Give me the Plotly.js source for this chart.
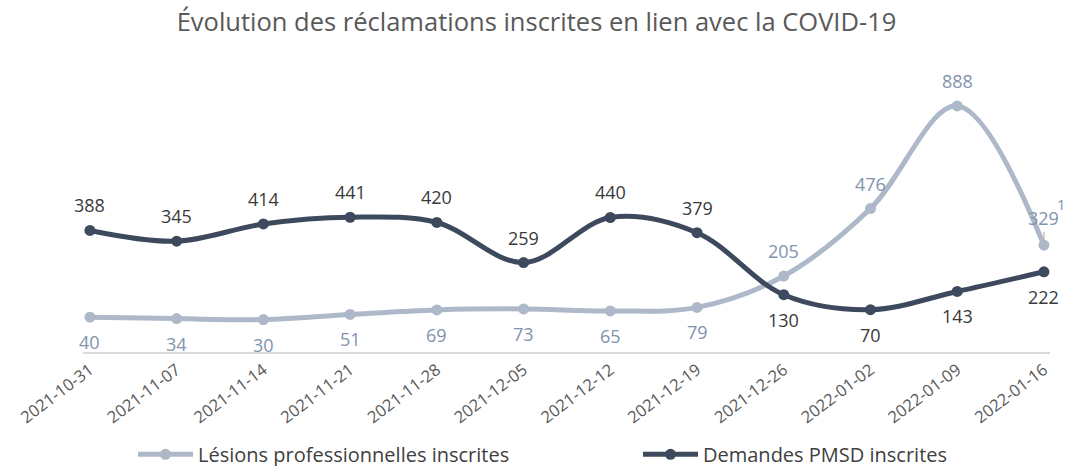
<!DOCTYPE html>
<html>
<head>
<meta charset="utf-8">
<script src="https://cdn.plot.ly/plotly-3.0.1.min.js"></script>
<style>html,body{margin:0;padding:0;background:#fff;}#chart{width:1073px;height:466px;}</style>
</head>
<body>
<div id="chart"></div>
<script>
const weeks = ["2021-10-31","2021-11-07","2021-11-14","2021-11-21","2021-11-28","2021-12-05","2021-12-12","2021-12-19","2021-12-26","2022-01-02","2022-01-09","2022-01-16"];
const lesions = [40,34,30,51,69,73,65,79,205,476,888,329];
const pmsd = [388,345,414,441,420,259,440,379,130,70,143,222];
const seriesNames = ["Lésions professionnelles inscrites","Demandes PMSD inscrites"];
const chartTitle = "Évolution des réclamations inscrites en lien avec la COVID-19";
const strayLabel = "1";

const lightColor = "#adb8c8";
const darkColor = "#3d4a5d";
const lightText = "#8193ad";
const darkText = "#3a3a3a";
const FONT = "Open Sans, sans-serif";

const traces = [
  {x: weeks, y: lesions, name: seriesNames[0], type: "scatter", mode: "lines+markers", legend: "legend",
   line: {color: lightColor, width: 5, shape: "spline", smoothing: 1},
   marker: {color: lightColor, size: 11}},
  {x: weeks, y: pmsd, name: seriesNames[1], type: "scatter", mode: "lines+markers", legend: "legend2",
   line: {color: darkColor, width: 5, shape: "spline", smoothing: 1},
   marker: {color: darkColor, size: 11}}
];

const annotations = [];
const last = weeks.length - 1;
weeks.forEach((w, i) => {
  const darkAbove = pmsd[i] > lesions[i];
  const lightAnn = {x: w, y: lesions[i], xref: "x", yref: "y", text: String(lesions[i]), showarrow: false,
    yshift: darkAbove ? -25 : 25, font: {family: FONT, size: 18, color: lightText}};
  if (i === last) {
    Object.assign(lightAnn, {showarrow: true, arrowhead: 0, arrowwidth: 1.2, arrowcolor: "#bfb3a6",
      ax: 0, ay: -27, standoff: 3, yshift: 0});
  }
  annotations.push(lightAnn);
  annotations.push({x: w, y: pmsd[i], xref: "x", yref: "y", text: String(pmsd[i]), showarrow: false,
    yshift: darkAbove ? 25 : -25, font: {family: FONT, size: 18, color: darkText}});
});
annotations.push({x: (1068-83)/(1050-83), y: (352-204)/274, xref: "paper", yref: "paper",
  text: strayLabel, showarrow: false, font: {family: FONT, size: 15, color: lightText}});

const legendBase = {orientation: "h", xanchor: "left", xref: "container", y: 0.025, yref: "container", yanchor: "middle",
  font: {family: FONT, size: 20, color: "#404040"}, itemwidth: 55, bgcolor: "rgba(0,0,0,0)"};

const layout = {
  width: 1073, height: 466,
  margin: {l: 83, r: 23, t: 78, b: 114},
  paper_bgcolor: "#fff", plot_bgcolor: "#fff",
  title: {text: chartTitle, x: 0.5, xref: "container", xanchor: "center", y: 0.952, yref: "container", yanchor: "middle",
          font: {family: FONT, size: 25.5, color: "#595959"}},
  xaxis: {type: "category", range: [-0.08, 11.07], showgrid: false, zeroline: false,
          showline: true, linecolor: "#d9d9d9", linewidth: 2, ticks: "",
          tickangle: -37, tickfont: {family: FONT, size: 16.5, color: "#595959"}},
  yaxis: {range: [-100, 1000], visible: false, showgrid: false, zeroline: false},
  showlegend: true,
  legend: Object.assign({}, legendBase, {x: 133/1073}),
  legend2: Object.assign({}, legendBase, {x: 638/1073}),
  annotations: annotations
};

Plotly.newPlot("chart", traces, layout, {displayModeBar: false, staticPlot: true});
</script>
</body>
</html>
